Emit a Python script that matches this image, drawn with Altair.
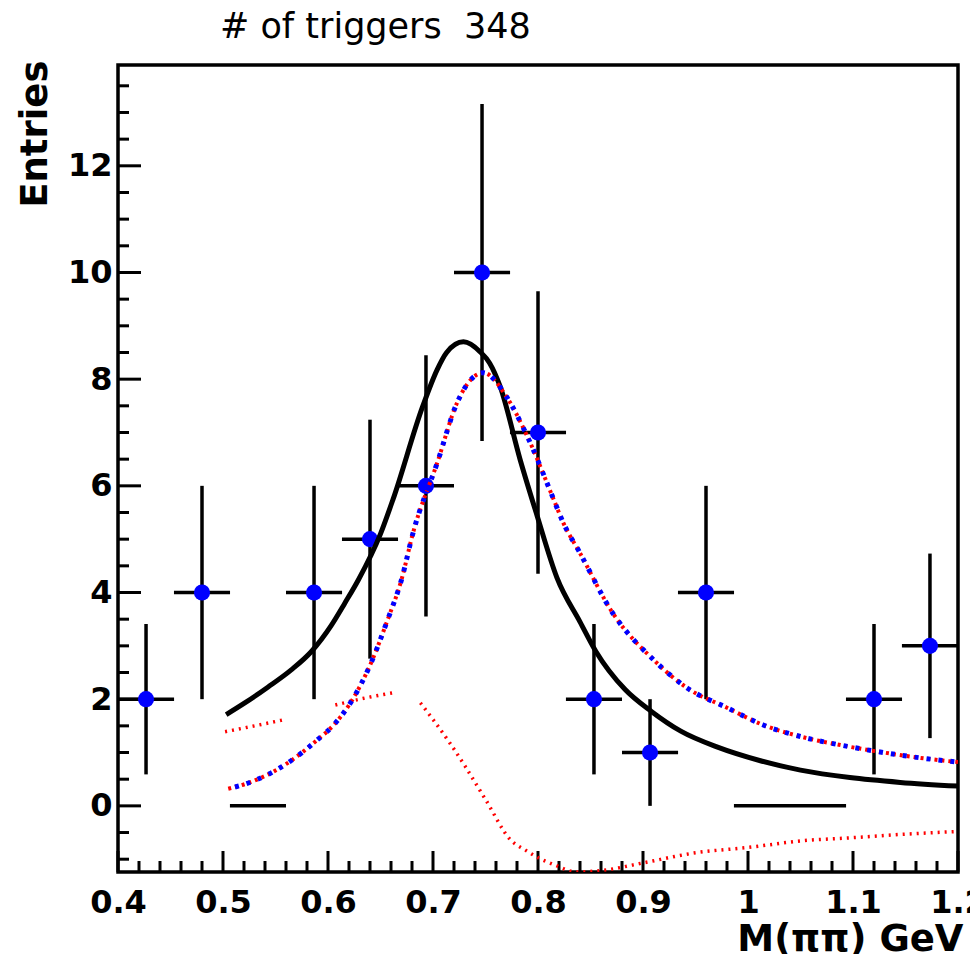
import altair as alt
import pandas as pd

# ---------------- data ----------------
title_text = "# of triggers\u00a0 348"

bin_centers = [0.4267, 0.48, 0.5333, 0.5867, 0.64, 0.6933, 0.7467, 0.8,
               0.8533, 0.9067, 0.96, 1.0133, 1.0667, 1.12, 1.1733]
counts = [2, 4, 0, 4, 5, 6, 10, 7, 2, 1, 4, 0, 0, 2, 3]
errors = [1.41, 2.0, 0.0, 2.0, 2.24, 2.45, 3.16, 2.65, 1.41, 1.0, 2.0, 0.0, 0.0, 1.41, 1.73]
half_bin = 0.0267

# total fit (black solid)
fit_x = [0.503, 0.52, 0.543, 0.565, 0.584, 0.603, 0.616, 0.629, 0.65, 0.662, 0.69, 0.704,
         0.713, 0.729, 0.745, 0.754, 0.764, 0.783, 0.799, 0.818, 0.84, 0.855, 0.883,
         0.908, 0.936, 0.971, 1.011, 1.05, 1.097, 1.145, 1.2]
fit_y = [1.71, 1.92, 2.23, 2.55, 2.89, 3.38, 3.80, 4.24, 5.10, 5.75, 7.48, 8.18,
         8.5, 8.70, 8.51, 8.3, 7.86, 6.49, 5.45, 4.28, 3.45, 2.90, 2.18,
         1.77, 1.40, 1.10, 0.85, 0.67, 0.53, 0.44, 0.37]

# resonance component (blue / red dashed overlay)
sig_x = [0.505, 0.527, 0.559, 0.590, 0.607, 0.622, 0.641, 0.657, 0.670, 0.681, 0.704,
         0.723, 0.738, 0.748, 0.770, 0.790, 0.814, 0.824, 0.840, 0.871, 0.910, 0.942,
         0.980, 1.014, 1.052, 1.088, 1.126, 1.164, 1.2]
sig_y = [0.32, 0.45, 0.77, 1.24, 1.55, 1.95, 2.68, 3.5, 4.24, 5.12, 6.43,
         7.56, 8.03, 8.12, 7.67, 6.92, 5.79, 5.31, 4.74, 3.62, 2.74, 2.21,
         1.84, 1.52, 1.29, 1.14, 1.01, 0.90, 0.82]

# background component (red dotted, drawn in pieces)
bkg_x = [0.502, 0.53, 0.557,
         0.607, 0.635, 0.662,
         0.688, 0.70, 0.716, 0.731, 0.75, 0.774, 0.788, 0.80, 0.816, 0.837, 0.865,
         0.90, 0.95, 1.0, 1.054, 1.097, 1.15, 1.2]
bkg_y = [1.39, 1.50, 1.61,
         1.89, 2.02, 2.12,
         1.93, 1.62, 1.18, 0.73, 0.12, -0.64, -0.83, -0.97, -1.11, -1.24, -1.20,
         -1.07, -0.88, -0.78, -0.65, -0.60, -0.53, -0.48]
bkg_seg = [0, 0, 0, 1, 1, 1] + [2] * 18

x_major = [0.4, 0.5, 0.6, 0.7, 0.8, 0.9, 1.0, 1.1, 1.2]
x_minor = [round(0.4 + 0.02 * i, 2) for i in range(41) if i % 5 != 0]
y_major = [0, 2, 4, 6, 8, 10, 12]
y_minor = [round(-1.0 + 0.5 * i, 1) for i in range(30) if (-1.0 + 0.5 * i) not in y_major]

# ---------------- tables ----------------
hist = pd.DataFrame({
    "x": bin_centers,
    "y": counts,
    "lo": [c - half_bin for c in bin_centers],
    "hi": [c + half_bin for c in bin_centers],
    "elo": [c - e for c, e in zip(counts, errors)],
    "ehi": [c + e for c, e in zip(counts, errors)],
})
markers = hist[hist["y"] > 0]
fit = pd.DataFrame({"x": fit_x, "y": fit_y})
sig = pd.DataFrame({"x": sig_x, "y": sig_y})
bkg = pd.DataFrame({"x": bkg_x, "y": bkg_y, "seg": bkg_seg})

W, H = 840, 807
FONT = "DejaVu Sans"

xs = alt.Scale(domain=[0.4, 1.2], nice=False, zero=False)
ys = alt.Scale(domain=[-1.24, 13.89], nice=False, zero=False)

xaxis = alt.Axis(values=x_major, format=".1~f", title="M(ππ) GeV", grid=False,
                 domain=False, ticks=False, tickSize=0, labelPadding=15,
                 labelFont=FONT, labelFontWeight="bold", labelFontSize=32, labelColor="black",
                 titleFont=FONT, titleFontWeight="bold", titleFontSize=37, titleColor="black",
                 titleX=845, titleY=78, titleAlign="right", titleBaseline="alphabetic",
                 labelFlush=False, labelOverlap=False)
yaxis = alt.Axis(values=y_major, format="d", title="Entries", grid=False,
                 domain=False, ticks=False, tickSize=0, labelPadding=6,
                 labelFont=FONT, labelFontWeight="bold", labelFontSize=32, labelColor="black",
                 titleFont=FONT, titleFontWeight="bold", titleFontSize=37, titleColor="black",
                 titleX=-83, titleY=-5, titleAngle=270, titleAlign="right",
                 titleBaseline="middle", labelFlush=False, labelOverlap=False)


def X(f):
    return alt.X(f, type="quantitative", scale=xs, axis=xaxis)


def Y(f):
    return alt.Y(f, type="quantitative", scale=ys, axis=yaxis)


hbars = alt.Chart(hist).mark_rule(color="black", strokeWidth=3.5).encode(
    x=X("lo"), x2="hi", y=Y("y"))
vbars = alt.Chart(hist[hist["y"] > 0]).mark_rule(color="black", strokeWidth=3.5).encode(
    x=X("x"), y=Y("elo"), y2="ehi")
pts = alt.Chart(markers).mark_circle(color="#0000ff", opacity=1, size=260).encode(
    x=X("x"), y=Y("y"))

fit_line = alt.Chart(fit).mark_line(color="black", strokeWidth=5, clip=True,
                                    interpolate="monotone").encode(
    x=X("x"), y=Y("y"))
bkg_line = alt.Chart(bkg).mark_line(color="#ff0000", strokeWidth=3.5, strokeDash=[2, 5],
                                    clip=True, interpolate="monotone").encode(
    x=X("x"), y=Y("y"), detail="seg:N")
sig_red = alt.Chart(sig).mark_line(color="#ff0000", strokeWidth=4, strokeDash=[3, 4],
                                   clip=True, interpolate="monotone").encode(
    x=X("x"), y=Y("y"))
sig_blue = alt.Chart(sig).mark_line(color="#0000ff", strokeWidth=5, strokeDash=[4, 8],
                                    strokeDashOffset=5, clip=True,
                                    interpolate="monotone").encode(
    x=X("x"), y=Y("y"))

# inward-pointing axis ticks
xmaj = alt.Chart(pd.DataFrame({"x": x_major})).mark_rule(color="black", strokeWidth=3).encode(
    x=X("x"), y=alt.value(H), y2=alt.value(H - 21))
xmin = alt.Chart(pd.DataFrame({"x": x_minor})).mark_rule(color="black", strokeWidth=3).encode(
    x=X("x"), y=alt.value(H), y2=alt.value(H - 11))
ymaj = alt.Chart(pd.DataFrame({"y": y_major})).mark_rule(color="black", strokeWidth=3).encode(
    y=Y("y"), x=alt.value(0), x2=alt.value(23))
ymin = alt.Chart(pd.DataFrame({"y": y_minor})).mark_rule(color="black", strokeWidth=3).encode(
    y=Y("y"), x=alt.value(0), x2=alt.value(11))

title = alt.Chart(pd.DataFrame({"t": [title_text]})).mark_text(
    align="left", baseline="alphabetic", font=FONT, fontSize=35, color="black"
).encode(text="t:N", x=alt.value(102), y=alt.value(-27))

chart = alt.layer(
    xmaj, xmin, ymaj, ymin, hbars, vbars, pts, fit_line, bkg_line, sig_red, sig_blue, title
).properties(
    width=W, height=H,
    background="white",
    autosize=alt.AutoSizeParams(type="none"),
    padding={"left": 110, "top": 57, "right": 12, "bottom": 82},
).configure_view(stroke="black", strokeWidth=3.5)

chart.save("out.html", embed_options={"renderer": "svg", "actions": False})
